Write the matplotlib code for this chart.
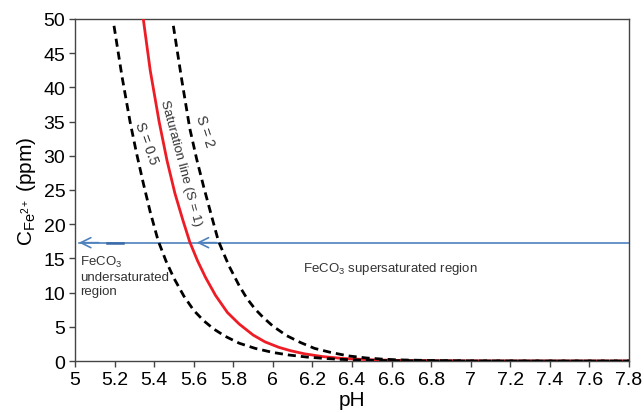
import matplotlib
matplotlib.use("Agg")
import matplotlib.pyplot as plt

plt.rcParams['font.family'] = ['Liberation Sans', 'DejaVu Sans']
plt.rcParams['mathtext.fontset'] = 'custom'
plt.rcParams['mathtext.rm'] = 'Liberation Sans'
plt.rcParams['mathtext.it'] = 'Liberation Sans:italic'

# Saturation line (S = 1)
ph_s1 = [5.345, 5.38, 5.425, 5.465, 5.505, 5.545, 5.58, 5.62, 5.66, 5.71, 5.77, 5.83,
         5.90, 5.96, 6.03, 6.09, 6.16, 6.25, 6.35, 6.5, 6.65, 6.8, 7.0, 7.4, 7.8]
c_s1 = [50, 42.5, 35, 29.3, 24.5, 20.6, 17.4, 14.6, 12.2, 9.6, 7.1, 5.4,
        3.8, 2.8, 2.0, 1.5, 1.05, 0.65, 0.38, 0.17, 0.08, 0.04, 0.01, 0.0, 0.0]

# S = 0.5
ph_s05 = [5.197, 5.238, 5.278, 5.31, 5.345, 5.38, 5.42, 5.46, 5.50, 5.55, 5.60, 5.65,
          5.70, 5.76, 5.83, 5.91, 6.0, 6.08, 6.17, 6.25, 6.34, 6.45, 6.6, 6.8, 7.0, 7.8]
c_s05 = [49, 41.5, 35, 30.5, 26, 21.8, 17.6, 14.6, 12.1, 9.5, 7.4, 5.9,
         4.7, 3.6, 2.6, 1.85, 1.25, 0.88, 0.58, 0.4, 0.24, 0.13, 0.05, 0.02, 0.0, 0.0]

# S = 2
ph_s2 = [5.497, 5.54, 5.58, 5.615, 5.65, 5.69, 5.724, 5.75, 5.78, 5.83, 5.87, 5.91,
         5.95, 6.0, 6.07, 6.14, 6.21, 6.29, 6.38, 6.47, 6.55, 6.63, 6.8, 7.0, 7.4, 7.8]
c_s2 = [49, 41, 34, 29.5, 25.5, 21.2, 17.6, 15.8, 13.8, 11.0, 9.1, 7.6,
        6.4, 5.1, 3.7, 2.7, 1.85, 1.27, 0.75, 0.45, 0.28, 0.17, 0.07, 0.02, 0.0, 0.0]

# Horizontal arrow
arrow_c = 17.3
arrow_start = 7.8
arrow_end = 5.02
arrow_mid = 5.615

x_ticks = [5, 5.2, 5.4, 5.6, 5.8, 6, 6.2, 6.4, 6.6, 6.8, 7, 7.2, 7.4, 7.6, 7.8]
x_ticklabels = ['5', '5.2', '5.4', '5.6', '5.8', '6', '6.2', '6.4', '6.6', '6.8',
                '7', '7.2', '7.4', '7.6', '7.8']
y_ticks = [0, 5, 10, 15, 20, 25, 30, 35, 40, 45, 50]

fig = plt.figure(figsize=(6.44, 4.14), dpi=100)
ax = fig.add_axes([0.1165, 0.1256, 0.8602, 0.8261])

blue = '#4f81bd'
ax.plot([arrow_start, arrow_end], [arrow_c, arrow_c], color=blue, lw=1.2, zorder=2)
ax.plot([5.16, 5.24], [arrow_c, arrow_c], color='#3a6aa8', lw=1.8, zorder=2)
for xe in (arrow_end, arrow_mid):
    ax.annotate('', xy=(xe, arrow_c), xytext=(xe + 0.1, arrow_c),
                arrowprops=dict(arrowstyle='->,head_length=0.6,head_width=0.3',
                                color=blue, lw=1.2, mutation_scale=12,
                                shrinkA=0, shrinkB=0), zorder=3)

dash = (2.9, 1.8)
ax.plot(ph_s05, c_s05, color='black', lw=2, linestyle=(0, dash), zorder=4)
ax.plot(ph_s2, c_s2, color='black', lw=2, linestyle=(0, dash), zorder=4)
ax.plot(ph_s1, c_s1, color='#ee1c25', lw=2, zorder=3)

tc = '#333333'
ax.text(5.362, 32.0, 'S = 0.5', rotation=-70, fontsize=10, color=tc,
        ha='center', va='center', rotation_mode='anchor')
ax.text(5.535, 29.1, 'Saturation line (S = 1)', rotation=-75, fontsize=9.6, color=tc,
        ha='center', va='center', rotation_mode='anchor')
ax.text(5.657, 33.7, 'S = 2', rotation=-72, fontsize=10, color=tc,
        ha='center', va='center', rotation_mode='anchor')
ax.text(5.025, 15.7, 'FeCO$\\mathregular{_3}$\nundersaturated\nregion', fontsize=9.5,
        color=tc, ha='left', va='top', linespacing=1.25)
ax.text(6.15, 13.6, 'FeCO$\\mathregular{_3}$ supersaturated region', fontsize=9.5,
        color=tc, ha='left', va='center')

ax.set_xlim(5, 7.8)
ax.set_ylim(0, 50)
ax.set_xticks(x_ticks)
ax.set_xticklabels(x_ticklabels)
ax.set_yticks(y_ticks)
ax.tick_params(axis='both', direction='out', length=4, width=1, color='#444444',
               labelsize=14, pad=3)
for s in ax.spines.values():
    s.set_color('#444444')
    s.set_linewidth(1)

ax.set_xlabel('pH', fontsize=15, labelpad=1.5)
ax.set_ylabel('C$\\mathregular{_{Fe^{2+}}}$ (ppm)', fontsize=15, labelpad=4)

fig.savefig('out.png', dpi=100)
